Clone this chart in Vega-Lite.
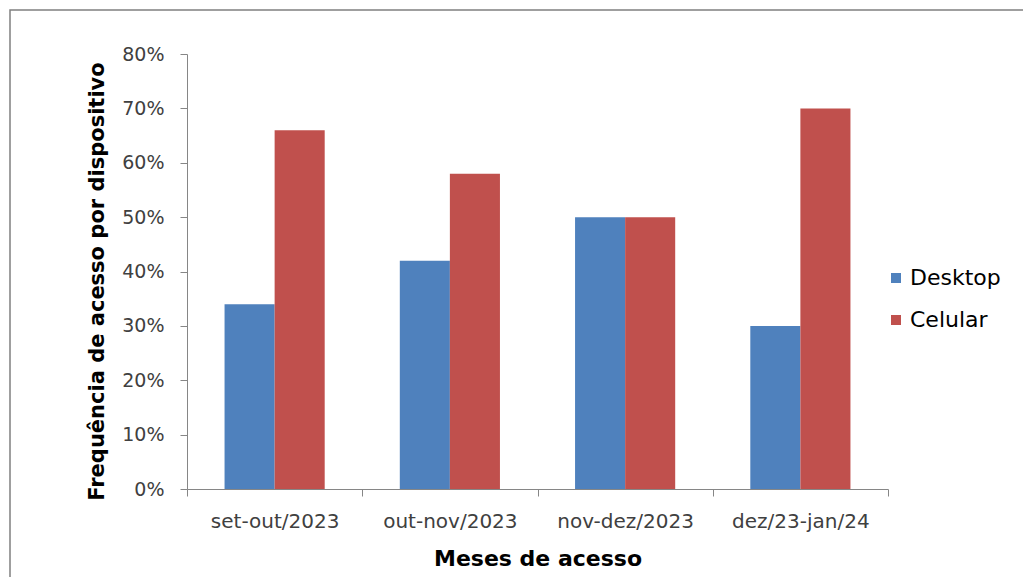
{
  "$schema": "https://vega.github.io/schema/vega-lite/v6.json",
  "autosize": {"type": "none"},
  "width": 1060,
  "height": 620,
  "padding": {"left": 10, "top": 10, "right": -47, "bottom": -53},
  "background": "white",
  "config": {
    "view": {"stroke": "#808080", "strokeWidth": 1.5},
    "font": "DejaVu Sans"
  },
  "data": {
    "values": [
      {"periodo": "set-out/2023", "dispositivo": "Desktop", "freq": 0.34},
      {"periodo": "set-out/2023", "dispositivo": "Celular", "freq": 0.66},
      {"periodo": "out-nov/2023", "dispositivo": "Desktop", "freq": 0.42},
      {"periodo": "out-nov/2023", "dispositivo": "Celular", "freq": 0.58},
      {"periodo": "nov-dez/2023", "dispositivo": "Desktop", "freq": 0.50},
      {"periodo": "nov-dez/2023", "dispositivo": "Celular", "freq": 0.50},
      {"periodo": "dez/23-jan/24", "dispositivo": "Desktop", "freq": 0.30},
      {"periodo": "dez/23-jan/24", "dispositivo": "Celular", "freq": 0.70}
    ]
  },
  "mark": {"type": "bar"},
  "encoding": {
    "x": {
      "field": "periodo",
      "type": "nominal",
      "sort": ["set-out/2023", "out-nov/2023", "nov-dez/2023", "dez/23-jan/24"],
      "scale": {"range": [177, 878], "paddingInner": 0, "paddingOuter": 0},
      "axis": {
        "title": "Meses de acesso",
        "offset": -141,
        "labelAngle": 0,
        "labelFontSize": 20,
        "labelColor": "#404040",
        "labelPadding": 15,
        "tickBand": "extent",
        "tickSize": 7,
        "tickColor": "#868686",
        "domainColor": "#868686",
        "titleFont": "DejaVu Sans",
        "titleFontSize": 22,
        "titleFontWeight": "bold",
        "titleColor": "#000000",
        "titlePadding": 17
      }
    },
    "xOffset": {
      "field": "dispositivo",
      "type": "nominal",
      "sort": ["Desktop", "Celular"],
      "scale": {"paddingInner": 0, "paddingOuter": 0.75}
    },
    "y": {
      "field": "freq",
      "type": "quantitative",
      "scale": {"domain": [0, 0.8], "range": [479, 44], "nice": false},
      "axis": {
        "title": "Frequência de acesso por dispositivo",
        "offset": -177,
        "values": [0, 0.1, 0.2, 0.3, 0.4, 0.5, 0.6, 0.7, 0.8],
        "format": ".0%",
        "grid": false,
        "labelFontSize": 19,
        "labelColor": "#404040",
        "labelPadding": 16,
        "tickSize": 7,
        "tickColor": "#868686",
        "domainColor": "#868686",
        "titleFont": "DejaVu Sans",
        "titleFontSize": 21,
        "titleFontWeight": "bold",
        "titleColor": "#000000",
        "titleAngle": -90,
        "titleAlign": "center",
        "titleBaseline": "middle",
        "titleX": -90,
        "titleY": 271
      }
    },
    "color": {
      "field": "dispositivo",
      "type": "nominal",
      "sort": ["Desktop", "Celular"],
      "scale": {"domain": ["Desktop", "Celular"], "range": ["#4F81BD", "#C0504D"]},
      "legend": {
        "title": null,
        "orient": "none",
        "legendX": 875,
        "legendY": 257,
        "padding": 0,
        "symbolType": "square",
        "symbolSize": 100,
        "symbolStrokeWidth": 0,
        "labelFontSize": 22,
        "labelColor": "#000000",
        "labelOffset": 3,
        "rowPadding": 20
      }
    }
  }
}
